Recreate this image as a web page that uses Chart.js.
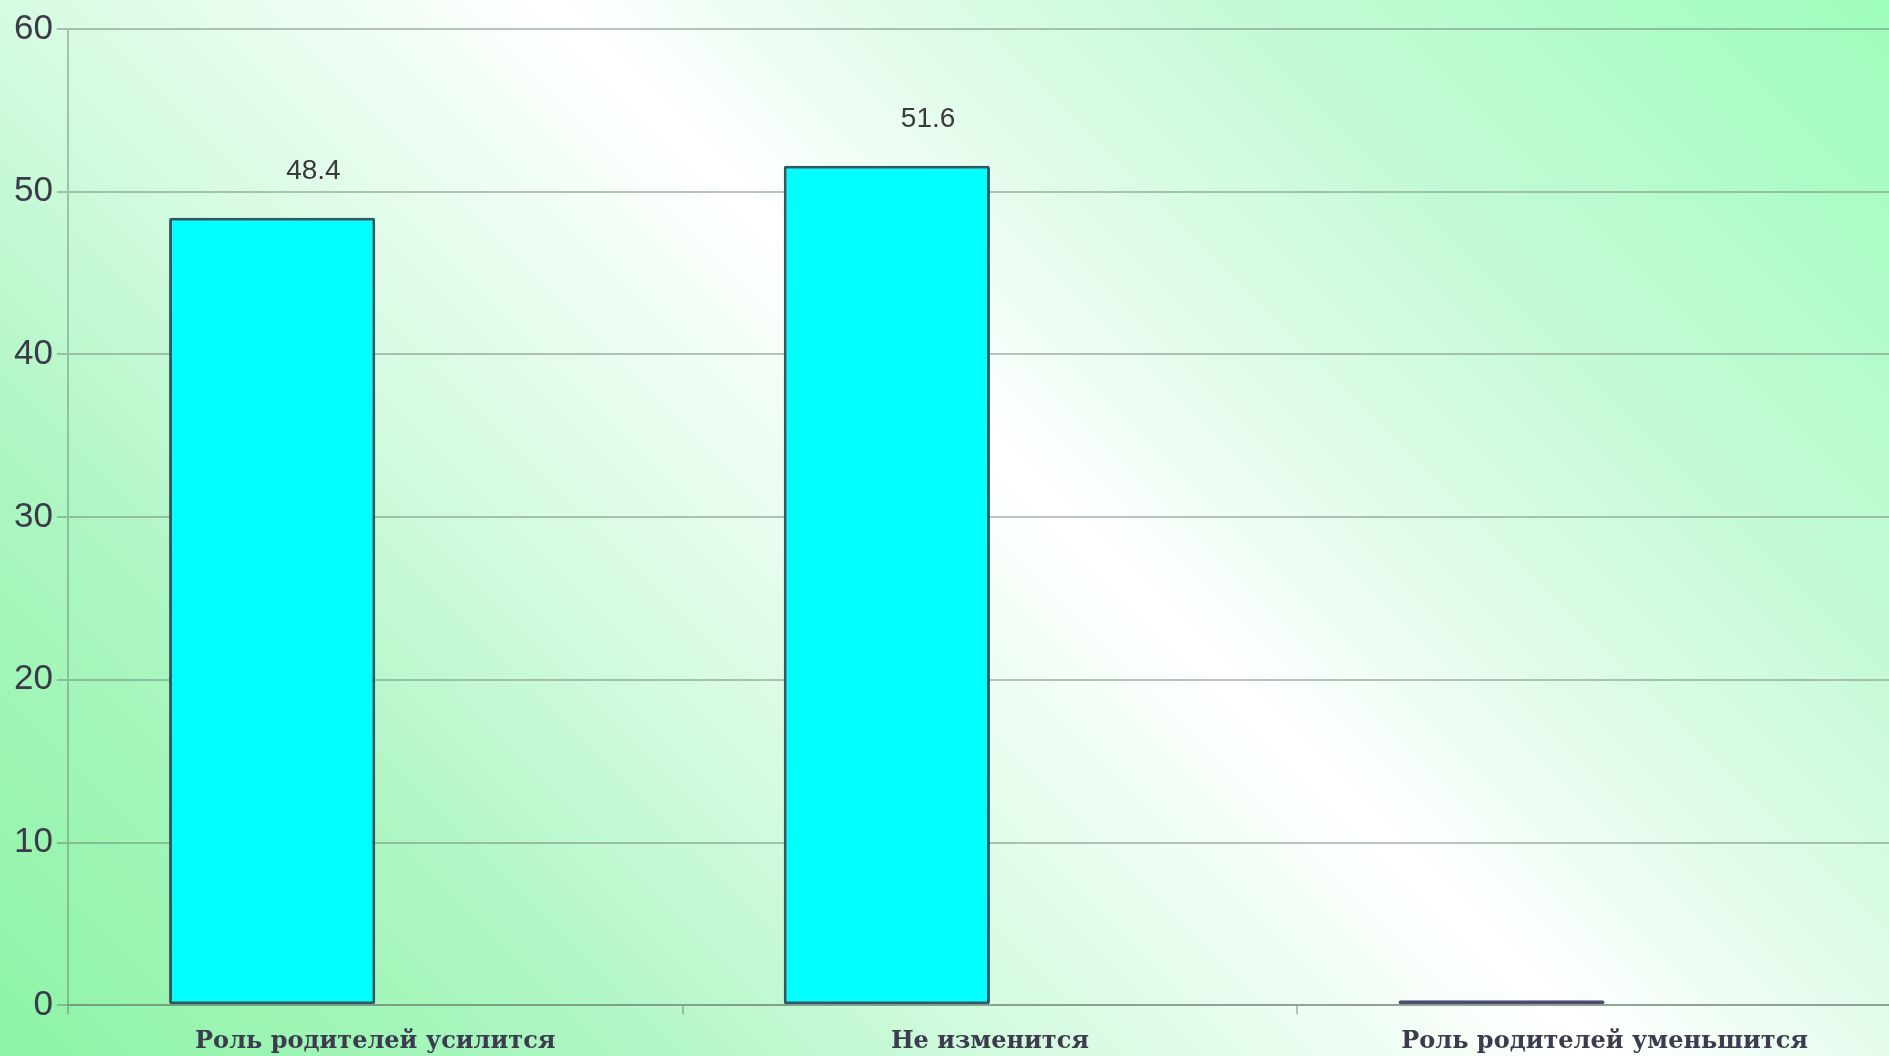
<!DOCTYPE html>
<html>
<head>
<meta charset="utf-8">
<script src="https://cdn.jsdelivr.net/npm/chart.js@4.4.1/dist/chart.umd.min.js"></script>
<style>
  html, body { margin: 0; padding: 0; width: 1889px; height: 1056px; overflow: hidden; }
  body {
    background: linear-gradient(45deg, #8cf4a5 0%, #acf6c1 20%, #d6fbe1 36%, #ffffff 54.5%, #e4fcec 64%, #c4fad5 78%, #9efdbc 100%);
  }
  #wrap { position: absolute; left: 0; top: 0; width: 1912px; height: 1080px; }
</style>
</head>
<body>
<div id="wrap"><canvas id="chart" width="1912" height="1080"></canvas></div>
<script>
var categories = ['Роль родителей усилится', 'Не изменится', 'Роль родителей уменьшится'];
var values = [48.4, 51.6, 0];
var emptySeries = [null, null, null];
var yMin = 0, yMax = 60, yStep = 10;

// value labels above the bars, a bit right of center like the original
var valueLabels = {
  id: 'valueLabels',
  afterDatasetsDraw: function(chart) {
    var ctx = chart.ctx;
    var meta = chart.getDatasetMeta(0);
    ctx.save();
    ctx.font = '28px "Liberation Sans", Arial, sans-serif';
    ctx.fillStyle = '#3a3a3a';
    ctx.textAlign = 'center';
    ctx.textBaseline = 'middle';
    meta.data.forEach(function(bar, i) {
      if (!values[i]) return;
      ctx.fillText(values[i].toFixed(1), bar.x + bar.width * 0.2, bar.y - 46);
    });
    ctx.restore();
  }
};

var gridColor = 'rgba(105,125,110,0.45)';

new Chart(document.getElementById('chart'), {
  type: 'bar',
  data: {
    labels: categories,
    datasets: [{
      data: values,
      backgroundColor: '#00ffff',
      borderColor: ['#2b5a66', '#2b5a66', '#4a4e6c'],
      borderWidth: 3,
      borderRadius: 2,
      borderSkipped: false,
      minBarLength: 5
    }, {
      data: emptySeries,
      backgroundColor: 'rgba(0,0,0,0)'
    }]
  },
  options: {
    responsive: false,
    devicePixelRatio: 1,
    animation: false,
    categoryPercentage: 0.671,
    barPercentage: 1,
    layout: { padding: { top: 29, right: 0, bottom: 11, left: 10 } },
    plugins: { legend: { display: false }, tooltip: { enabled: false } },
    scales: {
      x: {
        grid: { drawOnChartArea: false, drawTicks: true, tickLength: 9, color: gridColor, lineWidth: 2 },
        border: { display: true, color: gridColor, width: 2 },
        ticks: {
          color: '#3c3c4e',
          padding: 13,
          maxRotation: 0,
          font: { family: '"DejaVu Serif", serif', size: 24, weight: 'bold' }
        }
      },
      y: {
        min: yMin,
        max: yMax,
        grid: { color: gridColor, lineWidth: 2, tickLength: 11 },
        border: { display: true, color: gridColor, width: 2 },
        ticks: {
          stepSize: yStep,
          color: '#3a3a48',
          padding: 4,
          font: { family: '"Liberation Sans", Arial, sans-serif', size: 35 }
        }
      }
    }
  },
  plugins: [valueLabels]
});
</script>
</body>
</html>
